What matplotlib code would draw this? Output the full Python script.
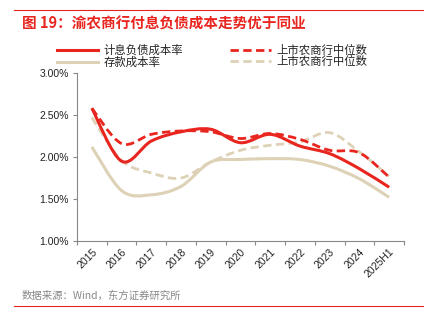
import matplotlib
matplotlib.use("Agg")
import matplotlib.pyplot as plt
from matplotlib.path import Path
from matplotlib.patches import PathPatch
from matplotlib.lines import Line2D
import numpy as np

plt.rcParams['font.family'] = ['Liberation Sans', 'Noto Sans CJK SC', 'DejaVu Sans']

categories = ['2015', '2016', '2017', '2018', '2019', '2020', '2021', '2022', '2023', '2024', '2025H1']
cqrcb_liab = [2.58, 1.95, 2.19, 2.30, 2.33, 2.17, 2.27, 2.13, 2.04, 1.86, 1.64]
peer_liab = [2.58, 2.16, 2.27, 2.31, 2.30, 2.22, 2.28, 2.21, 2.08, 2.05, 1.76]
cqrcb_dep = [2.12, 1.60, 1.55, 1.65, 1.94, 1.97, 1.98, 1.97, 1.89, 1.74, 1.52]
peer_dep = [2.47, 1.96, 1.81, 1.75, 1.94, 2.08, 2.14, 2.18, 2.29, 2.06, 1.77]
yticks = [1.0, 1.5, 2.0, 2.5, 3.0]

legend_labels = ['计息负债成本率', '存款成本率', '上市农商行中位数', '上市农商行中位数']
title = '图 19：渝农商行付息负债成本走势优于同业'
source = '数据来源：Wind，东方证券研究所'

RED = '#E8251F'
BEIGE = '#DDD1B6'

fig = plt.figure(figsize=(4.24, 3.21), dpi=100)
ax = fig.add_axes([77/424, 1-241/321, (404-77)/424, (241-73)/321])


def smooth_path(xs, ys):
    xs = np.asarray(xs, float); ys = np.asarray(ys, float)
    n = len(xs)
    verts = [(xs[0], ys[0])]
    codes = [Path.MOVETO]
    for i in range(n - 1):
        p0 = np.array([xs[max(i-1, 0)], ys[max(i-1, 0)]])
        p1 = np.array([xs[i], ys[i]])
        p2 = np.array([xs[i+1], ys[i+1]])
        p3 = np.array([xs[min(i+2, n-1)], ys[min(i+2, n-1)]])
        c1 = p1 + (p2 - p0) / 6.0
        c2 = p2 - (p3 - p1) / 6.0
        verts += [tuple(c1), tuple(c2), tuple(p2)]
        codes += [Path.CURVE4] * 3
    return Path(verts, codes)


DASH = (0, (3.0, 1.6))
x = np.arange(len(categories))
series = [
    (cqrcb_dep, BEIGE, '-', 2.2, 2),
    (peer_dep, BEIGE, DASH, 2.0, 3),
    (peer_liab, RED, DASH, 2.0, 4),
    (cqrcb_liab, RED, '-', 2.2, 5),
]
for ys, c, ls, lw, z in series:
    patch = PathPatch(smooth_path(x, ys), facecolor='none', edgecolor=c,
                      linestyle=ls, linewidth=lw, zorder=z, capstyle='butt')
    ax.add_patch(patch)

ax.set_xlim(-0.5, len(categories) - 0.5)
ax.set_ylim(1.0, 3.0)
ax.set_yticks(yticks)
ax.set_yticklabels([f'{v:.2f}%' for v in yticks], fontsize=7.5, color='#222222')
ax.set_xticks(x)
ax.set_xticklabels(categories, rotation=45, ha='right', rotation_mode='anchor',
                   fontsize=7.5, color='#222222')
ax.set_xticks(np.arange(-0.5, len(categories)), minor=True)
ax.tick_params(axis='x', which='major', length=0, pad=4)
ax.tick_params(axis='x', which='minor', length=3, color='#888888', width=0.8)
ax.tick_params(axis='y', length=3, color='#888888', width=0.8, pad=3)
for s in ['top', 'right']:
    ax.spines[s].set_visible(False)
for s in ['left', 'bottom']:
    ax.spines[s].set_color('#888888')
    ax.spines[s].set_linewidth(0.8)

handles = [
    Line2D([], [], color=RED, lw=2.2),
    Line2D([], [], color=BEIGE, lw=2.2),
    Line2D([], [], color=RED, lw=2.0, ls=DASH),
    Line2D([], [], color=BEIGE, lw=2.0, ls=DASH),
]
leg = fig.legend(handles, legend_labels, ncol=2, loc='center left',
                 bbox_to_anchor=(52/424, 1-56/321), frameon=False,
                 handlelength=3.6, handletextpad=0.5,
                 columnspacing=4.1, labelspacing=0.05, borderaxespad=0,
                 prop={'family': ['Noto Sans CJK SC'], 'size': 8.2})
for t in leg.get_texts():
    t.set_color('#222222')

fig.text(22/424, 1-23/321, title, color=RED, fontsize=10.5, fontweight='bold',
         va='center', ha='left', family=['Noto Sans CJK SC'])
fig.add_artist(Line2D([14/424, 1.0], [1-10/321, 1-10/321], color=RED, lw=0.8))
fig.add_artist(Line2D([14/424, 1.0], [1-306/321, 1-306/321], color=RED, lw=0.8))
fig.text(22/424, 1-296/321, source, color='#888888', fontsize=7.5,
         va='center', ha='left', family=['Noto Sans CJK SC'])

fig.savefig('out.png', dpi=100)
